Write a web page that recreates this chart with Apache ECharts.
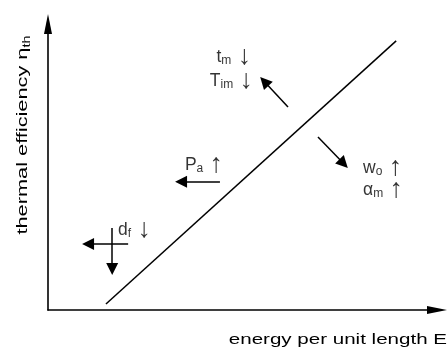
<!DOCTYPE html>
<html>
<head>
<meta charset="utf-8">
<script src="https://cdn.jsdelivr.net/npm/echarts@6/dist/echarts.min.js"></script>
<style>
  html, body { margin: 0; padding: 0; background: #fff; }
  #chart { width: 448px; height: 350px; }
</style>
</head>
<body>
<div id="chart"></div>
<script>
// Thermal efficiency versus energy per unit length: linear trend plus
// arrows showing how each process parameter shifts the operating point.

// Trend line end points (axis units 0..100)
const trendX = [14.9, 89.5];
const trendY = [2.1, 94.1];

// Effect arrows: tail and head points
const arrowFrom = [[61.7, 71.0], [69.4, 60.5], [44.2, 44.8], [20.6, 23.1], [16.5, 28.7]];
const arrowTo   = [[55.6, 79.9], [76.0, 51.2], [34.2, 44.8], [10.3, 23.1], [16.5, 14.3]];

// Parameter notes and their anchor points (left edge, vertical middle)
const noteText = [
  '{n|t}{s|m} {a|↓}',
  '{n|T}{s|im} {a|↓}',
  '{n|P}{s|a} {a|↑}',
  '{n|w}{s|o} {a|↑}',
  '{n|α}{s|m} {a|↑}',
  '{n|d}{s|f} {a|↓}'
];
const noteX = [43.3, 41.6, 35.2, 81.0, 81.0, 18.0];
const noteY = [88.5, 80.1, 50.7, 49.7, 42.0, 28.0];

// Axis titles
const xTitle = 'energy per unit length E';
const yTitle = ['thermal efficiency η', 'th'];

const FONT = '"Liberation Sans", Arial, sans-serif';
const richStyle = {
  n: { fontSize: 17.5, fontFamily: FONT, color: '#000', lineHeight: 20 },
  s: { fontSize: 12, fontFamily: FONT, color: '#000', lineHeight: 12, verticalAlign: 'bottom' },
  a: { fontSize: 27, fontFamily: FONT, color: '#000', lineHeight: 20, padding: [0, 0, 0, 3] }
};

const chart = echarts.init(document.getElementById('chart'), null, { renderer: 'canvas' });

const axisCommon = {
  type: 'value',
  min: 0,
  max: 100,
  axisLine: {
    show: true,
    symbol: ['none', 'triangle'],
    symbolSize: [8, 20],
    lineStyle: { color: '#000', width: 1.6 }
  },
  axisTick: { show: false },
  axisLabel: { show: false },
  splitLine: { show: false }
};

chart.setOption({
  animation: false,
  backgroundColor: '#fff',
  grid: { left: 48, right: 11, top: 24, bottom: 40 },
  xAxis: Object.assign({}, axisCommon),
  yAxis: Object.assign({}, axisCommon),
  graphic: [
    {
      type: 'text',
      x: 447,
      y: 340,
      scaleX: 1.37,
      style: {
        text: xTitle,
        font: '15px ' + FONT,
        fill: '#000',
        align: 'right',
        verticalAlign: 'middle'
      }
    },
    {
      type: 'text',
      x: 23,
      y: 135,
      rotation: Math.PI / 2,
      scaleX: 1.45,
      style: {
        text: '{n|' + yTitle[0] + '}{s|' + yTitle[1] + '}',
        rich: {
          n: { fontSize: 15, fontFamily: FONT, fill: '#000', lineHeight: 18 },
          s: { fontSize: 10, fontFamily: FONT, fill: '#000', lineHeight: 10, verticalAlign: 'bottom' }
        },
        align: 'center',
        verticalAlign: 'middle'
      }
    }
  ],
  series: [
    {
      type: 'line',
      data: trendX.map((x, i) => [x, trendY[i]]),
      showSymbol: false,
      lineStyle: { color: '#000', width: 1.5 },
      silent: true
    },
    {
      type: 'lines',
      coordinateSystem: 'cartesian2d',
      data: arrowFrom.map((f, i) => ({ coords: [f, arrowTo[i]] })),
      symbol: ['none', 'triangle'],
      symbolSize: [8, 12],
      lineStyle: { color: '#000', width: 1.5, opacity: 1 },
      silent: true
    },
    {
      type: 'scatter',
      symbolSize: 0,
      data: noteX.map((x, i) => ({ value: [x, noteY[i]], label: { formatter: noteText[i] } })),
      label: {
        show: true,
        position: 'right',
        distance: 0,
        rich: richStyle
      },
      silent: true
    }
  ]
});
</script>
</body>
</html>
